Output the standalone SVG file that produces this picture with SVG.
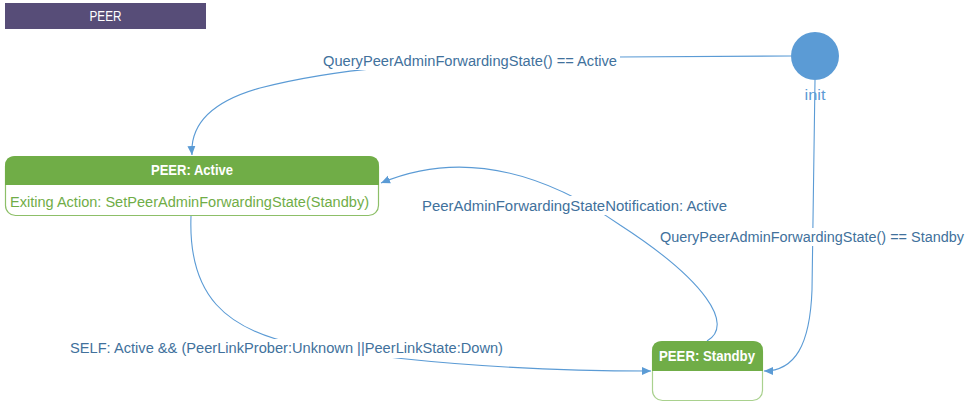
<svg xmlns="http://www.w3.org/2000/svg" width="966" height="409" viewBox="0 0 966 409">
<style>
.lbl{font-family:"Liberation Sans",Arial,sans-serif;font-size:14px;fill:#41719c}
.hdr{font-family:"Liberation Sans",Arial,sans-serif;font-size:14px;font-weight:bold;fill:#ffffff}
.act{font-family:"Liberation Sans",Arial,sans-serif;font-size:14px;fill:#70ad47}
.edge{fill:none;stroke:#5b9bd5;stroke-width:1.1}
.bg{fill:#ffffff}
</style>
<defs>
<marker id="arr" markerWidth="10" markerHeight="10" refX="9" refY="5" orient="auto" markerUnits="userSpaceOnUse">
<path d="M0,1 L9,5 L0,9 Z" fill="#5b9bd5"/>
</marker>
</defs>
<rect width="966" height="409" fill="#ffffff"/>
<g id="title">
<rect x="5" y="3" width="201" height="26" fill="#574d78"/>
<text x="105.5" y="21" text-anchor="middle" font-family="Liberation Sans, Arial, sans-serif" font-size="14" fill="#ffffff" textLength="32" lengthAdjust="spacingAndGlyphs">PEER</text>
</g>
<g id="connectors">
<path class="edge" d="M791,56 L617,57 C400,62 330,70 260,88 C210,102 190,125 192,155" marker-end="url(#arr)"/>
<path class="edge" d="M815,80 L812,290 C810,345 795,371 764,371" marker-end="url(#arr)"/>
<path class="edge" d="M707,341 C735,325 705,280 620,225 C540,170 460,150 381,183" marker-end="url(#arr)"/>
<path class="edge" d="M191,216 C188,295 225,330 300,345 C380,358 500,371 651,371" marker-end="url(#arr)"/>
<rect class="bg" x="320" y="52" width="300" height="18"/>
<text class="lbl" x="323" y="66" textLength="294" lengthAdjust="spacingAndGlyphs">QueryPeerAdminForwardingState() == Active</text>
<rect class="bg" x="419" y="196" width="311" height="19"/>
<text class="lbl" x="422" y="211" textLength="305" lengthAdjust="spacingAndGlyphs">PeerAdminForwardingStateNotification: Active</text>
<rect class="bg" x="657" y="228" width="309" height="18"/>
<text class="lbl" x="660" y="242" textLength="304" lengthAdjust="spacingAndGlyphs">QueryPeerAdminForwardingState() == Standby</text>
<rect class="bg" x="67" y="339" width="440" height="19"/>
<text class="lbl" x="70" y="353" textLength="433" lengthAdjust="spacingAndGlyphs">SELF: Active &amp;&amp; (PeerLinkProber:Unknown ||PeerLinkState:Down)</text>
</g>
<g id="init">
<circle cx="815" cy="56" r="24" fill="#5b9bd5"/>
<text x="815" y="100" text-anchor="middle" font-family="Liberation Sans, Arial, sans-serif" font-size="14" fill="#5b9bd5" textLength="21" lengthAdjust="spacingAndGlyphs">init</text>
</g>
<g id="active">
<rect x="5.5" y="156.5" width="373" height="59" rx="10" fill="#ffffff" stroke="#8dbf68" stroke-width="1.2"/>
<path d="M5,185 L5,166 Q5,156 15,156 L369,156 Q379,156 379,166 L379,185 Z" fill="#70ad47"/>
<text class="hdr" x="192" y="175" text-anchor="middle" textLength="82" lengthAdjust="spacingAndGlyphs">PEER: Active</text>
<text class="act" x="10" y="207" textLength="359" lengthAdjust="spacingAndGlyphs">Exiting Action: SetPeerAdminForwardingState(Standby)</text>
</g>
<g id="standby">
<rect x="652.5" y="341.5" width="110" height="59" rx="10" fill="#ffffff" stroke="#a9d18e" stroke-width="1.2"/>
<path d="M652,371 L652,351 Q652,341 662,341 L753,341 Q763,341 763,351 L763,371 Z" fill="#70ad47"/>
<text class="hdr" x="707" y="361" text-anchor="middle" textLength="96" lengthAdjust="spacingAndGlyphs">PEER: Standby</text>
</g>
</svg>
